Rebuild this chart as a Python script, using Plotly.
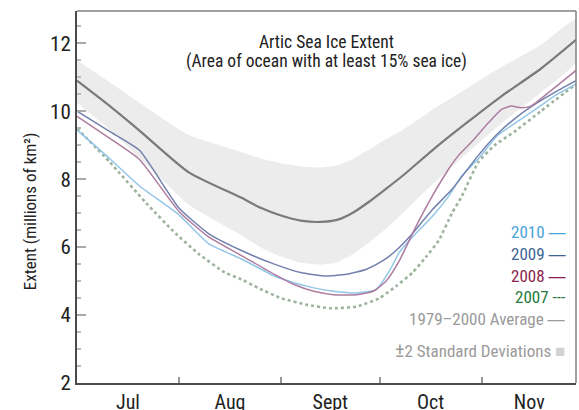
import plotly.graph_objects as go

# ---- data (day index: 0 = July 1) ----
month_labels = ["Jul", "Aug", "Sept", "Oct", "Nov"]
month_centers = [15.5, 46.5, 77, 107.5, 137.5]
month_starts = [31, 62, 92, 123]

avg_days = [0, 10, 19, 34, 50, 56, 62, 68, 74, 79, 84, 89, 94, 99, 109, 119, 129, 141, 151.7]
avg_vals = [10.9, 10.15, 9.43, 8.2, 7.45, 7.15, 6.93, 6.78, 6.74, 6.8, 7.02, 7.35, 7.72, 8.1, 8.93, 9.7, 10.44, 11.25, 12.1]
sd_upper = [11.5, 10.85, 10.25, 9.3, 8.8, 8.6, 8.47, 8.38, 8.34, 8.4, 8.6, 8.88, 9.18, 9.45, 10.1, 10.7, 11.3, 11.95, 12.7]
sd_lower = [10.25, 9.45, 8.63, 7.25, 6.35, 5.98, 5.72, 5.54, 5.49, 5.55, 5.8, 6.15, 6.55, 7.0, 7.93, 8.8, 9.64, 10.55, 11.45]

y2009_days = [0, 10, 19, 31, 40, 50, 60, 68, 75, 82, 88, 93, 97, 102, 108, 114, 122, 128, 134, 140, 146, 151.7]
y2009_vals = [10.0, 9.4, 8.85, 7.15, 6.4, 5.9, 5.5, 5.25, 5.15, 5.2, 5.35, 5.6, 5.9, 6.4, 7.1, 7.7, 8.7, 9.35, 9.85, 10.25, 10.6, 10.9]

y2008_days = [0, 10, 19, 31, 40, 50, 60, 66, 72, 78, 85, 90, 94, 98, 103, 108, 113, 116, 120, 125, 129, 132, 135, 138, 144, 151.7]
y2008_vals = [9.85, 9.2, 8.58, 7.05, 6.3, 5.75, 5.2, 4.9, 4.7, 4.6, 4.6, 4.7, 5.0, 5.6, 6.6, 7.5, 8.3, 8.7, 9.1, 9.65, 10.05, 10.15, 10.1, 10.15, 10.6, 11.2]

y2010_days = [0, 10, 19, 31, 40, 50, 60, 66, 72, 78, 85, 91, 95, 98, 102, 108, 113, 117, 122, 128, 134, 140, 146, 151.7]
y2010_vals = [9.45, 8.6, 7.8, 6.95, 6.1, 5.65, 5.15, 4.95, 4.8, 4.7, 4.65, 4.75, 5.3, 5.85, 6.3, 6.9, 7.5, 8.1, 8.6, 9.3, 9.7, 10.1, 10.5, 10.8]

y2007_days = [0, 10, 21, 30, 37, 45, 50, 55, 62, 70, 77, 85, 92, 97, 102, 106, 110, 114, 117, 122, 127, 133, 141, 151.7]
y2007_vals = [9.5, 8.5, 7.3, 6.4, 5.8, 5.25, 5.05, 4.8, 4.5, 4.3, 4.2, 4.25, 4.5, 4.85, 5.25, 5.7, 6.2, 7.0, 7.5, 8.5, 9.0, 9.4, 10.0, 10.8]

NARROW = "Liberation Sans Narrow, Arial Narrow, Roboto Condensed, Liberation Sans, sans-serif"
WIDE_DASH = "<span style='font-family:Liberation Sans'>—</span>"

fig = go.Figure()

# +/- 2 SD band
fig.add_trace(go.Scatter(x=avg_days + avg_days[::-1], y=sd_upper + sd_lower[::-1],
                         fill="toself", fillcolor="#ececec", line=dict(width=0, shape="spline", smoothing=0.5),
                         mode="lines", hoverinfo="skip", showlegend=False))
# average
fig.add_trace(go.Scatter(x=avg_days, y=avg_vals, mode="lines", line=dict(color="#7a7a7a", width=2.2, shape="spline", smoothing=0.6), showlegend=False))
# years
fig.add_trace(go.Scatter(x=y2007_days, y=y2007_vals, mode="lines", line=dict(color="#9db39d", width=2.6, dash="dot", shape="spline", smoothing=0.5), showlegend=False))
fig.add_trace(go.Scatter(x=y2010_days, y=y2010_vals, mode="lines", line=dict(color="#92c6e8", width=1.5, shape="spline", smoothing=0.5), showlegend=False))
fig.add_trace(go.Scatter(x=y2009_days, y=y2009_vals, mode="lines", line=dict(color="#7380ad", width=1.5, shape="spline", smoothing=0.5), showlegend=False))
fig.add_trace(go.Scatter(x=y2008_days, y=y2008_vals, mode="lines", line=dict(color="#ad7c9f", width=1.5, shape="spline", smoothing=0.5), showlegend=False))

fig.update_layout(
    width=579, height=410,
    margin=dict(l=77, r=3, t=11, b=27, autoexpand=False),
    paper_bgcolor="white", plot_bgcolor="white",
    font=dict(family=NARROW, color="#222"),
    xaxis=dict(range=[0, 151.7], showgrid=False, zeroline=False,
               tickmode="array", tickvals=month_centers, ticktext=month_labels, ticks="",
               tickfont=dict(size=20, color="#222", family=NARROW),
               showline=True, linecolor="#4a4a4a", linewidth=2,
               minor=dict(tickmode="array", tickvals=month_starts, ticks="inside", ticklen=6, tickcolor="#999", tickwidth=1.5, showgrid=False)),
    yaxis=dict(range=[2, 12.95], showgrid=False, zeroline=False,
               tickmode="array", tickvals=[2, 4, 6, 8, 10, 12], ticks="inside", ticklen=9, tickcolor="#aaa", tickwidth=1.5,
               tickfont=dict(size=21, color="#222", family=NARROW),
               showline=True, linecolor="#4a4a4a", linewidth=2,
               minor=dict(dtick=0.5, tick0=0, ticks="inside", ticklen=4, tickcolor="#bbb", tickwidth=1.5, showgrid=False)),
)

# top & right frame lines
fig.add_shape(type="line", xref="paper", yref="paper", x0=0, x1=1, y0=1, y1=1, line=dict(color="#808080", width=1.5))
fig.add_shape(type="line", xref="paper", yref="paper", x0=1, x1=1, y0=0, y1=1, line=dict(color="#808080", width=1.5))

# title
fig.add_annotation(text="Artic Sea Ice Extent", xref="paper", yref="paper", x=0.501, y=0.917,
                   xanchor="center", yanchor="middle",
                   showarrow=False, font=dict(size=17.5, color="#222", family=NARROW))
fig.add_annotation(text="(Area of ocean with at least 15% sea ice)", xref="paper", yref="paper", x=0.501, y=0.863,
                   xanchor="center", yanchor="middle",
                   showarrow=False, font=dict(size=17.5, color="#222", family=NARROW))

# y axis title
fig.add_annotation(text="Extent (millions of km²)", xref="paper", yref="paper", x=-0.094, y=0.462,
                   xanchor="center", yanchor="middle",
                   textangle=-90, showarrow=False, font=dict(size=17, color="#222", family=NARROW))

# legend (text)
legend_items = [
    ("2010 " + WIDE_DASH, "#4aa3d9", 0.406),
    ("2009 " + WIDE_DASH, "#3d6494", 0.347),
    ("2008 " + WIDE_DASH, "#8c1d4f", 0.288),
    ("2007 ---", "#1e7a3c", 0.231),
    ("1979–2000 Average " + WIDE_DASH, "#9a9a9a", 0.172),
    ("<span style='font-size:20px'>±</span>2 Standard Deviations <span style='color:#d3d3d3'>■</span>", "#9a9a9a", 0.089),
]
for txt, col, yy in legend_items:
    fig.add_annotation(text=txt, xref="paper", yref="paper", x=0.982, y=yy, xanchor="right", yanchor="middle",
                       showarrow=False, font=dict(size=17, color=col, family=NARROW))

fig.write_html("out.html", config={"displayModeBar": False},
               post_script="document.body.style.margin='0px';document.body.style.overflow='hidden';")
